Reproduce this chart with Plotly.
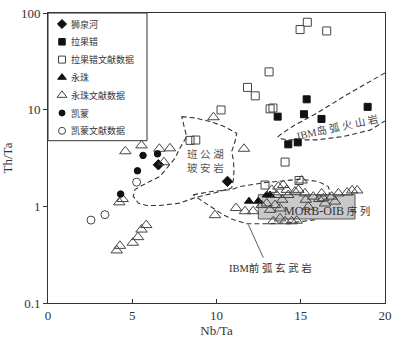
import numpy as np
import plotly.graph_objects as go

# ---- point data (Nb/Ta, Th/Ta) ----
sqh_x = [10.65, 6.55]
sqh_y = [1.81, 2.69]

lgc_x = [15.35, 13.63, 15.19, 16.23, 18.97, 14.26, 14.82]
lgc_y = [12.8, 8.47, 8.97, 8.02, 10.7, 4.38, 4.59]

lgc_lit_x = [14.96, 15.39, 16.54, 13.12, 11.84, 12.30, 10.27, 13.18, 13.35, 8.43, 8.77, 14.07, 12.88, 14.90]
lgc_lit_y = [67.4, 80.2, 65.2, 24.6, 17.0, 13.9, 9.93, 10.2, 10.4, 4.81, 4.85, 2.87, 1.66, 1.85]

yz_x = [11.93, 12.48, 12.98, 13.18]
yz_y = [1.13, 1.13, 1.31, 1.31]

yz_lit_x = [4.59, 5.55, 6.61, 7.24, 6.88, 4.43, 4.23, 5.83, 5.55, 5.34, 5.03, 4.27, 4.08,
            9.82, 11.63, 9.91, 11.16, 11.69, 12.17,
            15.05, 13.28, 13.67, 13.96, 14.17, 13.57, 14.26, 14.66, 14.86, 15.25, 15.74,
            16.24, 16.34, 16.84, 17.23, 17.75, 18.05, 18.35, 17.03, 16.44, 15.45, 13.47,
            13.77, 13.18, 12.98, 12.68, 13.77, 13.37, 14.07, 14.46, 14.76, 16.10, 15.30, 13.90]
yz_lit_y = [3.71, 4.27, 3.94, 3.98, 2.86, 1.19, 1.10, 0.64, 0.575, 0.48, 0.42, 0.39, 0.35,
            8.35, 3.94, 0.81, 0.96, 0.89, 0.89,
            1.85, 1.48, 1.60, 1.66, 1.48, 1.31, 1.31, 1.42, 1.48, 1.36, 1.26,
            1.36, 1.21, 1.26, 1.36, 1.39, 1.46, 1.46, 1.12, 1.07, 0.99, 1.03,
            0.95, 0.92, 1.07, 1.03, 0.75, 0.70, 0.70, 0.70, 0.71, 1.19, 1.17, 1.17]

km_x = [5.64, 6.50, 5.31, 4.31]
km_y = [3.36, 3.49, 2.33, 1.34]

km_lit_x = [2.55, 3.38, 5.26]
km_lit_y = [0.72, 0.82, 1.78]

# ---- field boundaries ----
bon_x = [7.93, 8.72, 9.61, 10.38, 11.2, 11.1, 10.9, 11.0, 11.04, 11.0, 10.9, 9.91, 8.72, 7.83,
         6.65, 5.86, 5.36, 5.06, 5.16, 5.66, 6.65, 7.14, 7.54, 7.83, 8.13, 8.23, 8.13, 8.03, 7.93]
bon_y = [8.47, 8.21, 7.56, 6.79, 5.71, 4.68, 3.69, 3.03, 2.39, 1.88, 1.55, 1.38, 1.23, 1.08,
         1.02, 1.02, 1.08, 1.27, 1.49, 1.67, 2.04, 2.58, 3.15, 4.0, 4.87, 5.27, 6.18, 7.24, 8.47]

fab_x = [8.61, 9.79, 10.92, 11.39, 12.76, 14.96, 16.02, 16.62, 16.74, 16.44, 16.08, 15.95,
         14.54, 12.99, 11.81, 10.98, 10.39, 9.79, 9.2, 8.61]
fab_y = [1.32, 1.43, 1.49, 1.60, 1.75, 1.91, 1.81, 1.61, 1.42, 1.12, 0.88, 0.73,
         0.68, 0.66, 0.66, 0.73, 0.82, 0.97, 1.12, 1.32]

arc_x = [20.0, 18.91, 17.53, 15.95, 14.56, 13.77, 13.65, 13.87, 14.26, 15.95, 17.53, 19.11, 20.0]
arc_y = [24.0, 18.7, 13.6, 9.18, 6.79, 5.48, 5.23, 4.99, 4.87, 4.87, 5.27, 6.14, 7.65]

morb_x = [12.48, 18.22, 18.22, 12.48, 12.48]
morb_y = [1.32, 1.32, 0.74, 0.74, 1.32]

lead_x = [11.89, 12.78]
lead_y = [0.648, 0.294]

serif = "Liberation Serif, Times New Roman, serif"
cjk = "Liberation Serif, Noto Sans CJK SC, serif"
dash = "5px,3px"

# plot area in window pixels (body margin removed in the page, see post_script)
L, R, T, B = 48, 385, 13, 303
W, H = 410, 340

fig = go.Figure()

for bx, by in [(bon_x, bon_y), (fab_x, fab_y), (arc_x, arc_y)]:
    fig.add_trace(go.Scatter(x=bx, y=by, mode="lines", showlegend=False, hoverinfo="skip",
                             line=dict(color="#333", width=1.1, dash=dash)))

fig.add_trace(go.Scatter(x=morb_x, y=morb_y, mode="lines", fill="toself", fillcolor="#c9c9c9",
                         line=dict(color="#555", width=1), showlegend=False, hoverinfo="skip"))
fig.add_trace(go.Scatter(x=lead_x, y=lead_y, mode="lines", showlegend=False, hoverinfo="skip",
                         line=dict(color="#333", width=0.8)))

series = [
    ("狮泉河", sqh_x, sqh_y, "diamond", 8, 7),
    ("拉果错", lgc_x, lgc_y, "square", 7, 6.5),
    ("拉果错文献数据", lgc_lit_x, lgc_lit_y, "square-open", 8, 7),
    ("永珠", yz_x, yz_y, "triangle-up", 8, 7.5),
    ("永珠文献数据", yz_lit_x, yz_lit_y, "triangle-up-open", 10, 8.5),
    ("凯蒙", km_x, km_y, "circle", 6.5, 6),
    ("凯蒙文献数据", km_lit_x, km_lit_y, "circle-open", 8, 7),
]
for name, sx, sy, sym, sz, lsz in series:
    col = "#111" if "open" not in sym else "#444"
    fig.add_trace(go.Scatter(x=sx, y=sy, mode="markers", name=name, showlegend=False,
                             marker=dict(symbol=sym, size=sz, color=col, line=dict(width=1, color=col))))

# legend drawn by hand on a pixel overlay axis
fig.add_shape(type="rect", xref="x2", yref="y2", x0=L, x1=147, y0=T, y1=140.7,
              line=dict(color="#333", width=1), fillcolor="white", layer="below")
for i, (name, sx, sy, sym, sz, lsz) in enumerate(series):
    col = "#111" if "open" not in sym else "#444"
    ly = 24 + i * 17.8
    fig.add_trace(go.Scatter(x=[62], y=[ly], xaxis="x2", yaxis="y2", mode="markers", showlegend=False,
                             hoverinfo="skip",
                             marker=dict(symbol=sym, size=lsz, color=col, line=dict(width=1, color=col))))
    fig.add_annotation(x=69, y=ly, xref="x2", yref="y2", text=name, showarrow=False, xanchor="left",
                       font=dict(family=cjk, size=9, color="#333"))

labels = [
    (9.32, 2.91, "班 公 湖<br>玻 安 岩", 0, "#555", 10.5),
    (17.21, 6.63, "IBM岛 弧 火 山 岩", -12, "#444", 10.5),
    (13.18, 0.232, "IBM前 弧 玄 武 岩", 0, "#333", 10.5),
    (16.53, 0.888, "MORB-OIB<span style='font-size:10.5px'> 序 列</span>", 0, "#333", 12),
]
for lx, ly, txt, ang, c, fs in labels:
    fig.add_annotation(x=lx, y=np.log10(ly), text=txt, showarrow=False, textangle=ang,
                       font=dict(family=cjk, size=fs, color=c))

fig.update_layout(
    width=W, height=H,
    margin=dict(l=L, r=W - R, t=T, b=H - B),
    plot_bgcolor="white", paper_bgcolor="white",
    showlegend=False,
    xaxis=dict(range=[0, 20], dtick=5, showline=True, linecolor="#333", mirror=True,
               ticks="inside", ticklen=4, tickcolor="#333", showgrid=False, zeroline=False,
               automargin=False, ticklabeloverflow="allow",
               tickfont=dict(family=serif, size=13, color="#333"),
               title=dict(text="Nb/Ta", font=dict(family=serif, size=13, color="#333"), standoff=2)),
    yaxis=dict(type="log", range=[-1, 2], tickvals=[0.1, 1, 10, 100],
               ticktext=["0.1", "1", "10", "100"],
               showline=True, linecolor="#333", mirror=True, ticks="outside", ticklen=4,
               tickcolor="#333", showgrid=False, zeroline=False, automargin=False,
               ticklabeloverflow="allow",
               tickfont=dict(family=serif, size=13, color="#333"),
               title=dict(text="Th/Ta", font=dict(family=serif, size=13, color="#333"), standoff=6)),
    xaxis2=dict(overlaying="x", range=[L, R], visible=False, anchor="y2", fixedrange=True),
    yaxis2=dict(overlaying="y", range=[B, T], visible=False, anchor="x2", fixedrange=True),
)

fig.write_html("out.html", config={"displayModeBar": False},
               post_script="document.body.style.margin='0px';")
